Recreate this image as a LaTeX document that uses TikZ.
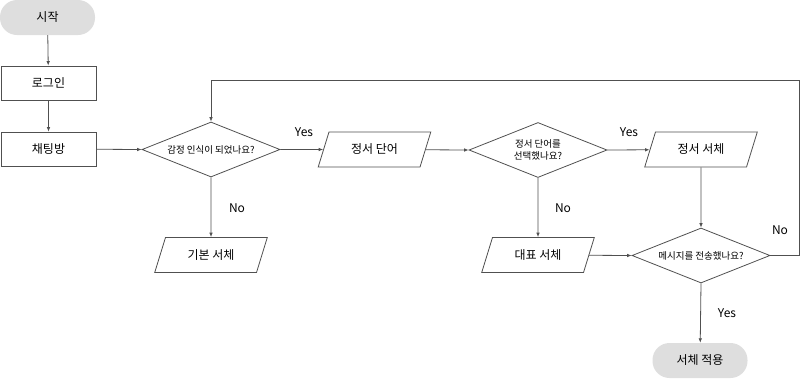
\documentclass[tikz,border=0pt]{standalone}
\usepackage{fontspec}
\setmainfont{Noto Sans CJK KR}
\usetikzlibrary{shapes.geometric,arrows.meta}
\definecolor{linec}{RGB}{80,80,80}
\definecolor{pillc}{RGB}{222,222,222}
\begin{document}
\begin{tikzpicture}[x=1pt,y=-1pt,
  line/.style={draw=linec,line width=0.8pt},
  arr/.style={line,-{Latex[length=4.5pt,width=3.6pt]}},
  pill/.style={rectangle,rounded corners=17pt,fill=pillc,minimum width=95pt,minimum height=35pt,font=\fontsize{12}{14}\selectfont},
  procbox/.style={rectangle,draw=linec,line width=0.8pt,minimum width=95pt,minimum height=34pt,font=\fontsize{12}{14}\selectfont},
  iobox/.style={trapezium,trapezium left angle=63,trapezium right angle=117,trapezium stretches=true,draw=linec,line width=0.8pt,minimum width=113pt,minimum height=35pt,inner sep=0pt,font=\fontsize{12}{14}\selectfont},
  decbox/.style={diamond,draw=linec,line width=0.8pt,minimum width=138pt,minimum height=55pt,inner sep=0pt,aspect=2.5,font=\fontsize{9.5}{12}\selectfont,align=center},
  lab/.style={font=\fontsize{12}{14}\selectfont,inner sep=0pt}]
\useasboundingbox (0,0) rectangle (800,378);
\node[pill] (start) at (47.5,17.5) {시작};
\node[procbox] (login) at (48.5,83) {로그인};
\node[procbox] (chat) at (48.5,149) {채팅방};
\node[decbox] (d1) at (211,149.5) {감정 인식이 되었나요?};
\node[iobox] (word) at (374.5,149.5) {정서 단어};
\node[decbox] (d2) at (538,150) {정서 단어를\\선택했나요?};
\node[iobox] (emo) at (701,149.5) {정서 서체};
\node[iobox] (basic) at (211,255) {기본 서체};
\node[iobox] (rep) at (538,255) {대표 서체};
\node[decbox] (d3) at (701,255.5) {메시지를 전송했나요?};
\node[pill] (apply) at (700,360.5) {서체 적용};
\coordinate (loopR) at (799,80);
\draw[arr] (start) -- (login);
\draw[arr] (login) -- (chat);
\draw[arr] (chat) -- (d1.west);
\draw[arr] (d1.east) -- (word);
\draw[arr] (word) -- (d2.west);
\draw[arr] (d2.east) -- (emo);
\draw[arr] (d1.south) -- (basic);
\draw[arr] (d2.south) -- (rep);
\draw[arr] (emo) -- (d3.north);
\draw[arr] (rep) -- (d3.west);
\draw[arr] (d3.south) -- (apply);
\draw[arr] (d3.east) -| (loopR) -| (d1.north);
\node[lab] (y1) at (304,132) {Yes};
\node[lab] (y2) at (629,132) {Yes};
\node[lab] (n1) at (237,208) {No};
\node[lab] (n2) at (563,208) {No};
\node[lab] (n3) at (780,230) {No};
\node[lab] (y3) at (727,313) {Yes};
\end{tikzpicture}
\end{document}
